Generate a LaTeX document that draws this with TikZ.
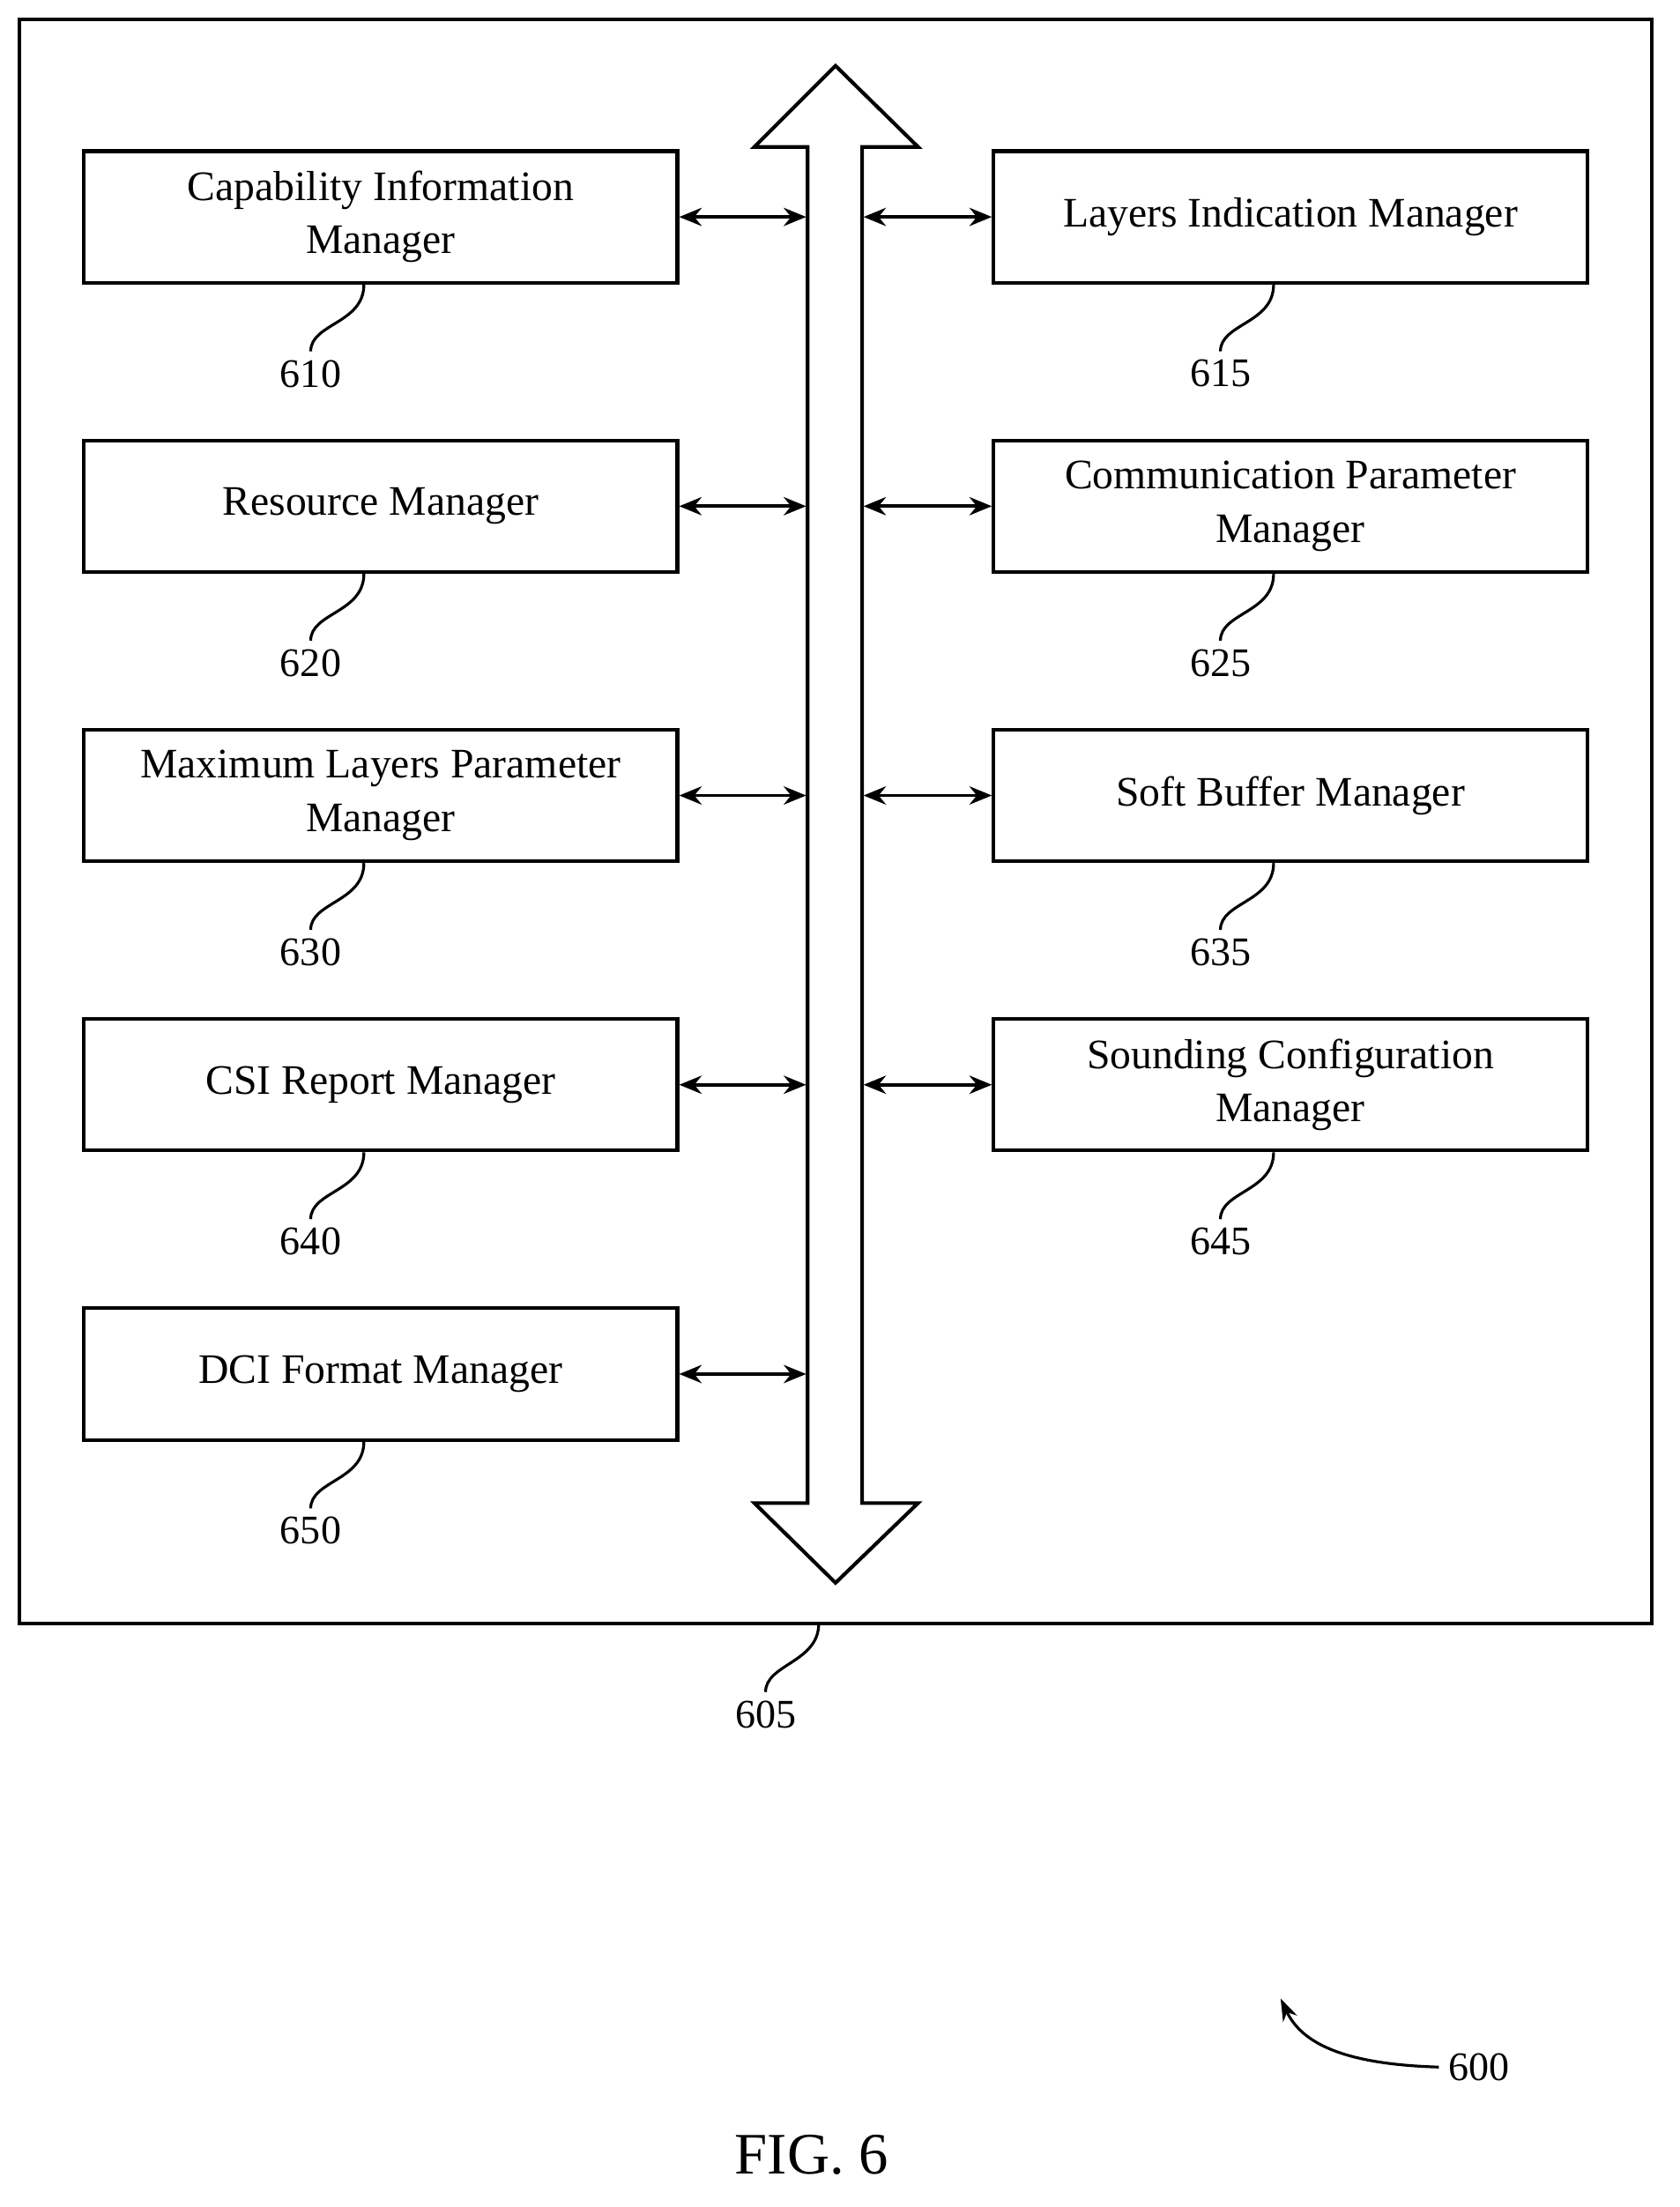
\documentclass[tikz,border=0pt]{standalone}
\usepackage{fontspec}
\setmainfont{Liberation Serif}
\usetikzlibrary{arrows.meta}
\begin{document}
\begin{tikzpicture}[x=1pt,y=-1pt,
  box/.style={draw,line width=2.6pt,minimum width=424pt,minimum height=94pt,align=center,font=\fontsize{30}{38}\selectfont,inner sep=0pt},
  lbl/.style={font=\fontsize{29}{30}\selectfont,inner sep=1pt},
  conn/.style={line width=2.4pt,{Stealth[length=16pt,width=13pt]}-{Stealth[length=16pt,width=13pt]}},
  sq/.style={line width=2pt}]
\useasboundingbox (0,0) rectangle (1200,1577);
\node[draw,line width=2.6pt,minimum width=1166pt,minimum height=1146pt,inner sep=0pt] (frame) at (597,587) {};
% bus
\draw[line width=2.6pt,fill=white] (577,105) -- (539,105) -- (597,47) -- (656,105) -- (616,105) -- (616,1074) -- (656,1074) -- (597,1131) -- (539,1074) -- (577,1074) -- cycle;
\foreach \i/\txt/\n in {0/{Capability Information\\Manager}/610,1/{Resource Manager}/620,2/{Maximum Layers Parameter\\Manager}/630,3/{CSI Report Manager}/640,4/{DCI Format Manager}/650}{
  \pgfmathsetmacro\yy{155+206.7*\i}
  \node[box] (L\n) at (272,\yy) {\txt};
  \coordinate (LB\n) at (576,\yy);
  \draw[conn] (L\n.east) -- (LB\n);
  \node[lbl] (t\n) at (222,\yy+112) {\n};
  \draw[sq] ([xshift=-12pt]L\n.south) .. controls +(0,28) and +(0,-20) .. ([yshift=5pt]t\n.north);
}
\foreach \i/\txt/\n in {0/{Layers Indication Manager}/615,1/{Communication Parameter\\Manager}/625,2/{Soft Buffer Manager}/635,3/{Sounding Configuration\\Manager}/645}{
  \pgfmathsetmacro\yy{155+206.7*\i}
  \node[box] (R\n) at (922,\yy) {\txt};
  \coordinate (RB\n) at (617,\yy);
  \draw[conn] (RB\n) -- (R\n.west);
  \node[lbl] (t\n) at (872,\yy+112) {\n};
  \draw[sq] ([xshift=-12pt]R\n.south) .. controls +(0,28) and +(0,-20) .. ([yshift=5pt]t\n.north);
}
\node[lbl] (t605) at (547,1225) {605};
\coordinate (f605) at (585,1160);
\draw[sq] (f605) .. controls +(0,28) and +(0,-20) .. ([yshift=5pt]t605.north);
\node[lbl] (t600) at (1057,1477) {600};
\coordinate (a600) at (915,1428);
\draw[line width=2pt,-{Stealth[length=16pt,width=11pt]}] ([xshift=-6pt]t600.west) .. controls (960,1475) and (930,1460) .. (a600);
\node[font=\fontsize{42}{44}\selectfont] (fig) at (580,1540) {FIG. 6};
\end{tikzpicture}
\end{document}
